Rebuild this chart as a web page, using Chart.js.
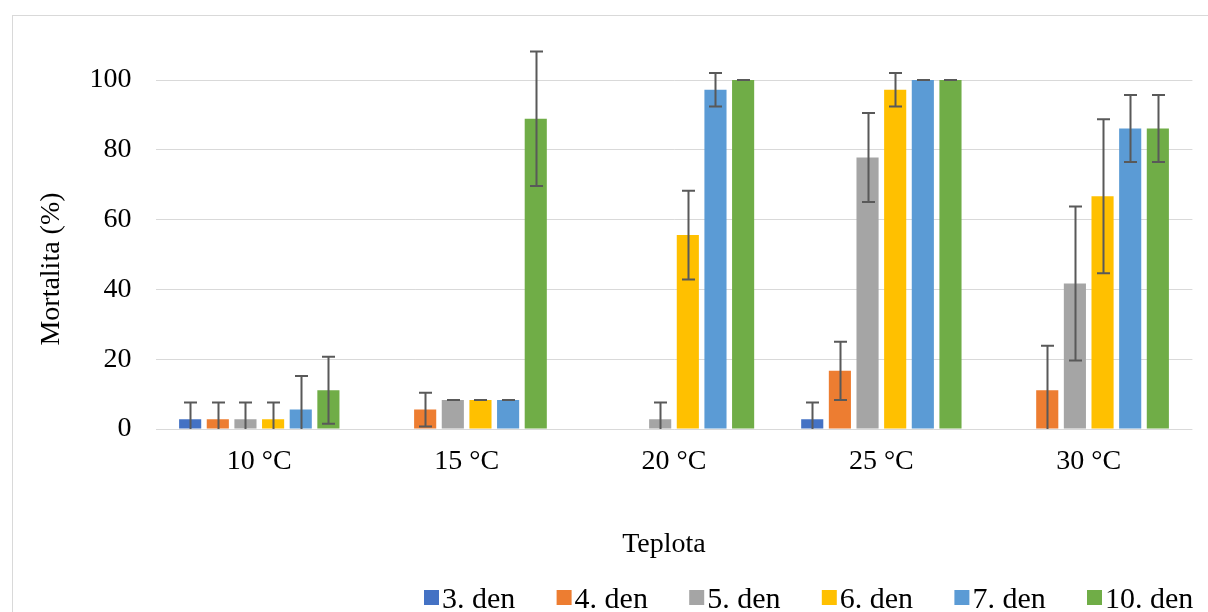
<!DOCTYPE html>
<html>
<head>
<meta charset="utf-8">
<script src="https://cdn.jsdelivr.net/npm/chart.js@4.4.1/dist/chart.umd.min.js"></script>
<style>
  html, body { margin: 0; padding: 0; background: #ffffff; }
  #wrap { width: 1208px; height: 612px; }
</style>
</head>
<body>
<div id="wrap"><canvas id="c" width="1208" height="612"></canvas></div>
<script>
// Temperature groups on the x axis
const categories = ['10 °C', '15 °C', '20 °C', '25 °C', '30 °C'];

// Mean mortality (%) per day of exposure
const den3  = [2.78, 0, 0, 2.78, 0];
const den4  = [2.78, 5.56, 0, 16.67, 11.11];
const den5  = [2.78, 8.33, 2.78, 77.78, 41.67];
const den6  = [2.78, 8.33, 55.56, 97.22, 66.67];
const den7  = [5.56, 8.33, 97.22, 100, 86.11];
const den10 = [11.11, 88.89, 100, 100, 86.11];

// Standard deviations for the error bars
const sd3  = [4.81, 0, 0, 4.81, 0];
const sd4  = [4.81, 4.81, 0, 8.33, 12.73];
const sd5  = [4.81, 0, 4.81, 12.73, 22.05];
const sd6  = [4.81, 0, 12.73, 4.81, 22.05];
const sd7  = [9.62, 0, 4.81, 0, 9.62];
const sd10 = [9.62, 19.25, 0, 0, 9.62];

const seriesLabels = ['3. den', '4. den', '5. den', '6. den', '7. den', '10. den'];
const yTicks = [0, 20, 40, 60, 80, 100];

const colors = ['#4472C4', '#ED7D31', '#A5A5A5', '#FFC000', '#5B9BD5', '#70AD47'];
const values = [den3, den4, den5, den6, den7, den10];
const errors = [sd3, sd4, sd5, sd6, sd7, sd10];

const SERIF = '"Liberation Serif", "Times New Roman", serif';

const datasets = seriesLabels.map((lab, i) => ({
  label: lab,
  data: values[i],
  sd: errors[i],
  backgroundColor: colors[i],
  borderWidth: 0,
  categoryPercentage: 0.8,
  barPercentage: 0.8
}));

// Outer frame of the chart
const framePlugin = {
  id: 'frame',
  beforeDraw(chart) {
    const ctx = chart.ctx;
    ctx.save();
    ctx.fillStyle = '#ffffff';
    ctx.fillRect(0, 0, chart.width, chart.height);
    ctx.strokeStyle = '#d9d9d9';
    ctx.lineWidth = 1;
    ctx.strokeRect(12.5, 15.5, chart.width + 20, chart.height + 20);
    ctx.restore();
  }
};

// Standard-deviation whiskers, clipped at the zero line only
const errorBarPlugin = {
  id: 'errorBars',
  afterDatasetsDraw(chart) {
    const ctx = chart.ctx;
    const y = chart.scales.y;
    const area = chart.chartArea;
    ctx.save();
    ctx.strokeStyle = '#595959';
    ctx.lineWidth = 2;
    chart.data.datasets.forEach((ds, di) => {
      const meta = chart.getDatasetMeta(di);
      meta.data.forEach((bar, i) => {
        const v = ds.data[i];
        const e = ds.sd[i];
        if (!v) return;
        const x = Math.round(bar.x) + 0.5;
        const top = y.getPixelForValue(v + e);
        const lowRaw = y.getPixelForValue(v - e);
        const low = Math.min(lowRaw, area.bottom);
        const half = 6.5;
        ctx.beginPath();
        ctx.moveTo(x, top);
        ctx.lineTo(x, low);
        ctx.moveTo(x - half, top);
        ctx.lineTo(x + half, top);
        if (lowRaw <= area.bottom) {
          ctx.moveTo(x - half, lowRaw);
          ctx.lineTo(x + half, lowRaw);
        }
        ctx.stroke();
      });
    });
    ctx.restore();
  }
};

// Axis titles and the legend row
const textPlugin = {
  id: 'texts',
  afterDraw(chart) {
    const ctx = chart.ctx;
    ctx.save();
    ctx.fillStyle = '#000000';
    ctx.font = '28px ' + SERIF;
    ctx.textAlign = 'center';
    ctx.textBaseline = 'alphabetic';
    ctx.fillText('Teplota', 664, 552);

    ctx.save();
    ctx.translate(59, 269);
    ctx.rotate(-Math.PI / 2);
    ctx.fillText('Mortalita (%)', 0, 0);
    ctx.restore();

    ctx.font = '30px ' + SERIF;
    ctx.textAlign = 'left';
    chart.data.datasets.forEach((ds, i) => {
      const bx = 424 + i * 132.6;
      ctx.fillStyle = ds.backgroundColor;
      ctx.fillRect(bx, 590, 15, 15);
      ctx.fillStyle = '#000000';
      ctx.fillText(ds.label, bx + 18, 608);
    });
    ctx.restore();
  }
};

new Chart(document.getElementById('c'), {
  type: 'bar',
  data: { labels: categories, datasets: datasets },
  options: {
    responsive: false,
    animation: false,
    layout: { padding: { left: 12, right: 15.6, top: 80, bottom: 0 } },
    plugins: {
      legend: { display: false },
      title: { display: false },
      tooltip: { enabled: false }
    },
    scales: {
      x: {
        grid: { display: false, drawTicks: false },
        border: { display: false },
        ticks: { color: '#000000', font: { family: SERIF, size: 28 }, padding: 16, maxRotation: 0 },
        afterFit(scale) { scale.height = 183; }
      },
      y: {
        min: 0,
        max: 100,
        afterBuildTicks(scale) { scale.ticks = yTicks.map(v => ({ value: v })); },
        grid: { color: '#d9d9d9', lineWidth: 1, drawTicks: false },
        border: { display: false },
        ticks: { color: '#000000', font: { family: SERIF, size: 28 }, padding: 24 },
        afterFit(scale) { scale.width = 143.6; }
      }
    }
  },
  plugins: [framePlugin, errorBarPlugin, textPlugin]
});
</script>
</body>
</html>
